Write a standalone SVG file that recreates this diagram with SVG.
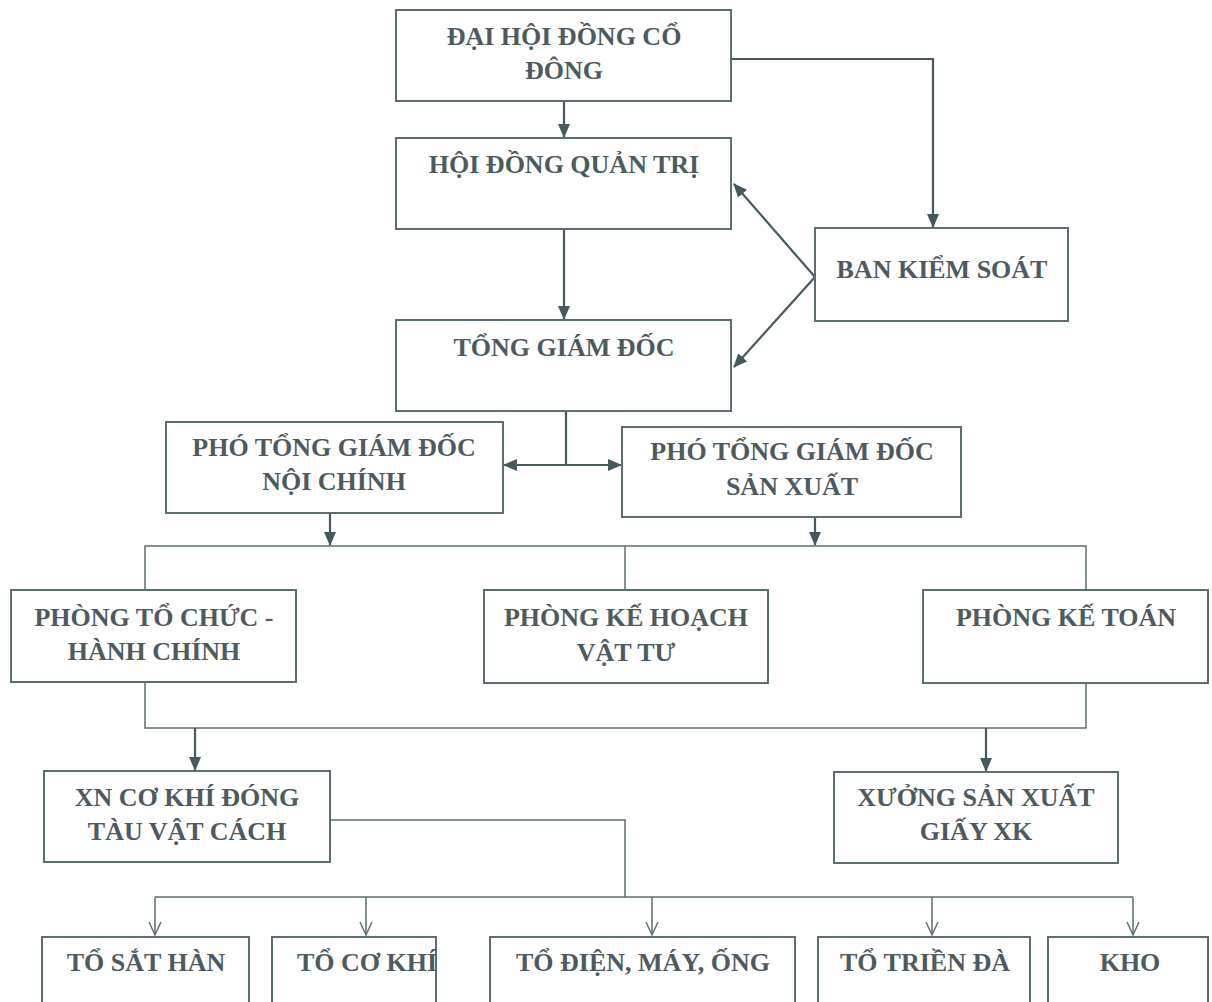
<svg xmlns="http://www.w3.org/2000/svg" width="1212" height="1002" viewBox="0 0 1212 1002">
<defs>
<marker id="tri" viewBox="0 0 14 14" refX="13" refY="7" markerWidth="14" markerHeight="14" markerUnits="userSpaceOnUse" orient="auto-start-reverse">
<path d="M0,1 L14,7 L0,13 Z" fill="#46595f"/>
</marker>
<marker id="vee" viewBox="0 0 14 14" refX="13" refY="7" markerWidth="14" markerHeight="14" markerUnits="userSpaceOnUse" orient="auto">
<path d="M0,1 L13,7 L0,13" fill="none" stroke="#5a6d72" stroke-width="1.4"/>
</marker>
<style>
.box{fill:#fff;stroke:#5a6e74;stroke-width:2}
.t{font-family:"Liberation Serif","Times New Roman",serif;font-weight:bold;font-size:26px;fill:#4d5b60;text-anchor:middle}
.c{fill:none;stroke:#46595f;stroke-width:2.2}
.cl{fill:none;stroke:#5a6d72;stroke-width:1.5}
</style>
</defs>
<rect width="1212" height="1002" fill="#fff"/>
<g id="connectors">
<path class="c" d="M564,101 V137" marker-end="url(#tri)"/>
<path class="c" d="M731,59 H933 V227" marker-end="url(#tri)"/>
<path class="c" d="M564,229 V319" marker-end="url(#tri)"/>
<path class="c" d="M815,277 L734,184" marker-end="url(#tri)"/>
<path class="c" d="M815,277 L734,367" marker-end="url(#tri)"/>
<path class="c" d="M566,411 V465"/>
<path class="c" d="M504,465 H621" marker-start="url(#tri)" marker-end="url(#tri)"/>
<path class="c" d="M330,513 V545" marker-end="url(#tri)"/>
<path class="c" d="M815,517 V545" marker-end="url(#tri)"/>
<path class="cl" d="M145,590 V546 H1086 V590 M625,546 V590"/>
<path class="cl" d="M145,682 V728 H1086 V683"/>
<path class="c" d="M195,728 V770" marker-end="url(#tri)"/>
<path class="c" d="M986,728 V771" marker-end="url(#tri)"/>
<path class="cl" d="M331,820 H625 V897 M155,897 H1133"/>
<path class="cl" d="M155,897 V935" marker-end="url(#vee)"/>
<path class="cl" d="M366,897 V935" marker-end="url(#vee)"/>
<path class="cl" d="M652,897 V935" marker-end="url(#vee)"/>
<path class="cl" d="M932,897 V935" marker-end="url(#vee)"/>
<path class="cl" d="M1133,897 V935" marker-end="url(#vee)"/>
</g>
<g id="n1"><rect class="box" x="396" y="10" width="335" height="91"/><text class="t" x="564" y="45">ĐẠI HỘI ĐỒNG CỔ</text><text class="t" x="564" y="79">ĐÔNG</text></g>
<g id="n2"><rect class="box" x="396" y="138" width="335" height="91"/><text class="t" x="564" y="173">HỘI ĐỒNG QUẢN TRỊ</text></g>
<g id="n3"><rect class="box" x="815" y="228" width="253" height="93"/><text class="t" x="942" y="278">BAN KIỂM SOÁT</text></g>
<g id="n4"><rect class="box" x="396" y="320" width="335" height="91"/><text class="t" x="564" y="356">TỔNG GIÁM ĐỐC</text></g>
<g id="n5"><rect class="box" x="166" y="422" width="337" height="91"/><text class="t" x="334" y="456">PHÓ TỔNG GIÁM ĐỐC</text><text class="t" x="334" y="490">NỘI CHÍNH</text></g>
<g id="n6"><rect class="box" x="622" y="427" width="339" height="90"/><text class="t" x="792" y="460">PHÓ TỔNG GIÁM ĐỐC</text><text class="t" x="792" y="495">SẢN XUẤT</text></g>
<g id="n7"><rect class="box" x="11" y="590" width="285" height="92"/><text class="t" x="154" y="626">PHÒNG TỔ CHỨC -</text><text class="t" x="154" y="660">HÀNH CHÍNH</text></g>
<g id="n8"><rect class="box" x="484" y="590" width="284" height="93"/><text class="t" x="626" y="626">PHÒNG KẾ HOẠCH</text><text class="t" x="626" y="661">VẬT TƯ</text></g>
<g id="n9"><rect class="box" x="923" y="590" width="285" height="93"/><text class="t" x="1066" y="626">PHÒNG KẾ TOÁN</text></g>
<g id="n10"><rect class="box" x="44" y="771" width="286" height="91"/><text class="t" x="187" y="806">XN CƠ KHÍ ĐÓNG</text><text class="t" x="187" y="840">TÀU VẬT CÁCH</text></g>
<g id="n11"><rect class="box" x="834" y="772" width="284" height="91"/><text class="t" x="976" y="806">XƯỞNG SẢN XUẤT</text><text class="t" x="976" y="840">GIẤY XK</text></g>
<g id="n12"><rect class="box" x="42" y="937" width="207" height="80"/><text class="t" x="146" y="971">TỔ SẮT HÀN</text></g>
<g id="n13"><rect class="box" x="272" y="937" width="164" height="80"/><text class="t" x="367" y="971">TỔ CƠ KHÍ</text></g>
<g id="n14"><rect class="box" x="490" y="937" width="305" height="80"/><text class="t" x="643" y="971">TỔ ĐIỆN, MÁY, ỐNG</text></g>
<g id="n15"><rect class="box" x="818" y="937" width="212" height="80"/><text class="t" x="925" y="971">TỔ TRIỀN ĐÀ</text></g>
<g id="n16"><rect class="box" x="1048" y="937" width="160" height="80"/><text class="t" x="1130" y="971">KHO</text></g>
</svg>
